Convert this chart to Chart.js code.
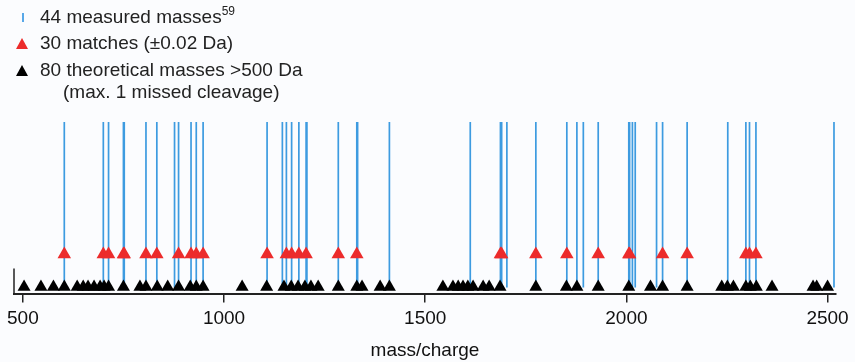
<!DOCTYPE html>
<html>
<head>
  <title>Peptide mass fingerprint</title>
  <script src="https://cdn.jsdelivr.net/npm/chart.js"></script>
  <style>
    body { margin: 0; background: #fbfcfe; }
    #wrap { position: relative; width: 855px; height: 362px; }
    #legend { position: absolute; left: 0; top: 0; font-family: "Liberation Sans", Arial, sans-serif; font-size: 19px; color: #222; }
    .row { position: absolute; white-space: nowrap; }
    .mk { position: absolute; }
    sup { font-size: 12px; position: relative; top: -1px; }
  </style>
</head>
<body>
<div id="wrap">
  <canvas id="chart"></canvas>
  <div id="legend">
    <div class="mk" style="left:22px;top:13px;width:2px;height:9px;background:#58a8e8"></div>
    <div class="row" style="left:40px;top:5px">44 measured masses<sup>59</sup></div>
    <div class="mk" style="left:16px;top:38px;width:0;height:0;border-left:6.5px solid transparent;border-right:6.5px solid transparent;border-bottom:11px solid #ec2b2b"></div>
    <div class="row" style="left:40px;top:32px">30 matches (±0.02 Da)</div>
    <div class="mk" style="left:16px;top:65px;width:0;height:0;border-left:6.5px solid transparent;border-right:6.5px solid transparent;border-bottom:11px solid #000"></div>
    <div class="row" style="left:40px;top:59px">80 theoretical masses &gt;500 Da</div>
    <div class="row" style="left:63px;top:81px">(max. 1 missed cleavage)</div>
  </div>
</div>

<script>
  // masses (m/z)
  var measured = [603, 700, 713, 750, 752, 806, 833, 877, 887, 918, 931, 948,
    1107, 1145, 1155, 1168, 1186, 1204, 1206, 1284, 1330, 1332, 1411,
    1612, 1687, 1690, 1703, 1775, 1852, 1877, 1893, 1930,
    2006, 2008, 2015, 2022, 2075, 2090, 2151, 2252, 2297, 2306, 2322, 2516];
  var matches = [603, 700, 713, 750, 752, 806, 833, 887, 918, 931, 948,
    1107, 1155, 1168, 1186, 1204, 1284, 1330, 1687, 1690, 1775, 1852, 1930,
    2006, 2008, 2090, 2151, 2297, 2306, 2322];
  var theoretical = [503, 545, 576, 603, 635, 650, 662, 677, 692, 702, 713, 750,
    791, 806, 834, 860, 887, 916, 931, 948, 1045, 1106, 1149, 1167, 1184, 1201,
    1216, 1234, 1284, 1330, 1343, 1388, 1411, 1544, 1569, 1582, 1594, 1606, 1619,
    1644, 1659, 1686, 1775, 1851, 1877, 1930, 2006, 2060, 2090, 2151, 2237, 2251,
    2266, 2297, 2308, 2323, 2362, 2464, 2473, 2500];
  var tickValues = [500, 1000, 1500, 2000, 2500];

  // row heights (y scale 0..173)
  var yTheo = 7.5, yMatch = 40.3, yLineLo = 7, yLineHi = 173;

  var linePts = [];
  measured.forEach(function (m) {
    linePts.push({x: m, y: yLineLo}, {x: m, y: yLineHi}, {x: m, y: null});
  });

  var ctx = document.getElementById('chart').getContext('2d');
  var chart = new Chart(ctx, {
    type: 'line',
    data: {
      datasets: [
        {
          label: 'theoretical',
          data: theoretical.map(function (m) { return {x: m, y: yTheo}; }),
          showLine: false,
          pointStyle: 'triangle',
          pointRadius: 7.5,
          pointBorderWidth: 0,
          pointBackgroundColor: '#000',
          order: 1,
          clip: false
        },
        {
          label: 'matches',
          data: matches.map(function (m) { return {x: m, y: yMatch}; }),
          showLine: false,
          pointStyle: 'triangle',
          pointRadius: 7.8,
          pointBorderWidth: 0,
          pointBackgroundColor: '#ec2b2b',
          order: 2,
          clip: false
        },
        {
          label: 'measured',
          data: linePts,
          borderColor: '#3d9be0',
          borderWidth: 1.7,
          pointRadius: 0,
          spanGaps: false,
          order: 3,
          clip: false
        },
        {
          label: 'axis stub',
          data: [{x: 478, y: 0}, {x: 478, y: 26}],
          borderColor: '#222',
          borderWidth: 1.5,
          pointRadius: 0,
          order: 4,
          clip: false
        }
      ]
    },
    options: {
      responsive: true,
      maintainAspectRatio: false,
      animation: false,
      layout: { padding: { left: 14, right: 19, top: 122, bottom: 0 } },
      plugins: { legend: { display: false }, tooltip: { enabled: false } },
      scales: {
        x: {
          type: 'linear',
          min: 478,
          max: 2521,
          afterBuildTicks: function (axis) {
            axis.ticks = tickValues.map(function (v) { return {value: v}; });
          },
          ticks: {
            color: '#111',
            padding: 5,
            font: { family: 'Liberation Sans', size: 19 },
            callback: function (v) { return String(v); }
          },
          grid: { drawOnChartArea: false, tickLength: 8, color: '#222', lineWidth: 1.5 },
          border: { color: '#222', width: 2 },
          title: {
            display: true,
            text: 'mass/charge',
            color: '#111',
            padding: { top: 4, bottom: 0 },
            font: { family: 'Liberation Sans', size: 19 }
          }
        },
        y: { display: false, min: 0, max: 173 }
      }
    }
  });
</script>
</body>
</html>
